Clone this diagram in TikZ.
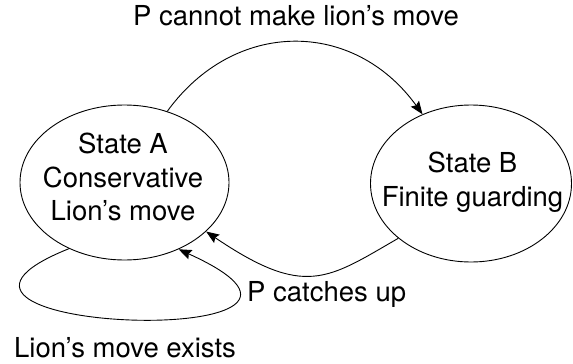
\documentclass[tikz,border=0pt]{standalone}
\usepackage{fontspec}
\setmainfont{TeX Gyre Heros}
\usetikzlibrary{shapes.geometric,arrows.meta}
\begin{document}
\begin{tikzpicture}[x=1pt,y=-1pt,
  state/.style={draw,ellipse,line width=0.9pt,inner sep=0pt},
  txt/.style={inner sep=0pt,align=center,font=\fontsize{27.5}{33.5}\selectfont},
  conn/.style={line width=0.9pt,-{Stealth[length=13pt,width=10pt,inset=2pt]}}]
\useasboundingbox (0,0) rectangle (573,364);
\node[state,minimum width=209pt,minimum height=155pt] (A) at (124.5,182.5) {};
\node[state,minimum width=201pt,minimum height=157pt] (B) at (471,183.5) {};
\node[txt,anchor=north] (At) at (123,133) {State A\\Conservative\\Lion's move};
\node[txt,anchor=north] (Bt) at (472.5,152) {State B\\Finite guarding};
\node[txt,anchor=base] (l1) at (296,25) {P cannot make lion's move};
\node[txt,anchor=base west] (l2) at (247,301.5) {P catches up};
\node[txt,anchor=base] (l3) at (125,357) {Lion's move exists};
\draw[conn] (A.59) .. controls +(67,-92.5) and +(-69,-95.5) .. (B.125);
\draw[conn] (B.217) .. controls +(-71,41) and +(99,67) .. (A.329);
\draw[conn] (A.230) .. controls +(-212,85) and +(228,103) .. (A.309);
\end{tikzpicture}
\end{document}
